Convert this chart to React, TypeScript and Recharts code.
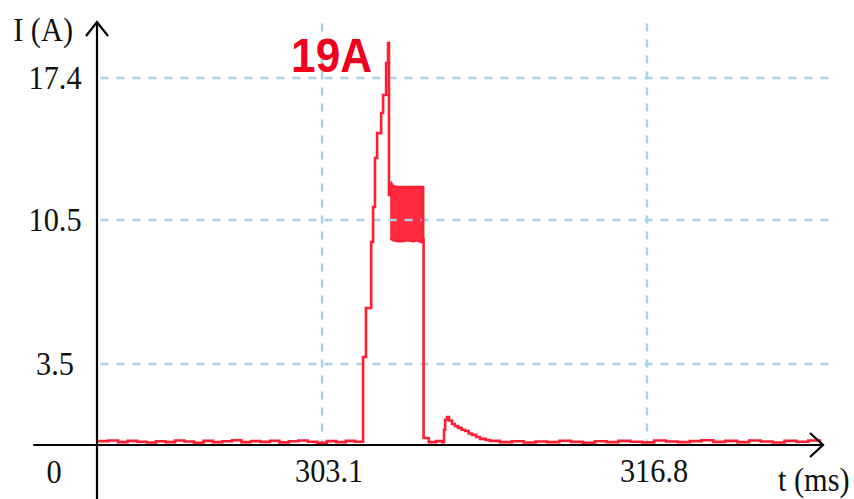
import React from "react";
import { ComposedChart, Line, Area, XAxis, YAxis, ReferenceLine, ReferenceDot } from "recharts";

// time axis (ms) and current (A)
const T_MIN = 293.61;
const T_MAX = 324.22;
const I_MIN = -0.44;
const I_MAX = 20.12;
const xTicks = [303.1, 316.8];
const yTicks = [3.5, 10.5, 17.4];

const preTimes = [293.65, 294.1, 294.5, 294.9, 295.3, 295.7, 296.1, 296.5, 296.9, 297.3, 297.7, 298.1, 298.5, 298.9, 299.3, 299.7, 300.1, 300.5, 300.9, 301.3, 301.7, 302.1, 302.5, 302.9, 303.3, 303.7, 304.1, 304.5];
const preValues = [-0.25, -0.22, -0.3, -0.24, -0.28, -0.32, -0.26, -0.3, -0.22, -0.27, -0.33, -0.24, -0.3, -0.26, -0.21, -0.3, -0.25, -0.29, -0.23, -0.31, -0.26, -0.22, -0.28, -0.33, -0.25, -0.3, -0.24, -0.28];

const pulseTimes = [304.83, 304.95, 305.17, 305.25, 305.33, 305.42, 305.59, 305.67, 305.8, 305.88, 305.92, 305.97, 307.36, 307.38, 307.6, 307.9, 308.16, 308.24, 308.29, 308.37, 308.45, 308.58, 308.7, 308.83, 308.98, 309.13, 309.28, 309.42, 309.6, 309.76, 310.0, 310.18];
const pulseValues = [3.84, 6.22, 9.43, 11.13, 13.51, 14.72, 15.7, 16.57, 18.13, 19.1, 11.71, 12.1, 9.53, -0.1, -0.3, -0.25, -0.3, 0.3, 0.78, 0.92, 0.75, 0.58, 0.48, 0.39, 0.3, 0.24, 0.12, 0.05, -0.05, -0.14, -0.2, -0.24];

const postTimes = [310.6, 311.1, 311.6, 312.1, 312.6, 313.1, 313.6, 314.1, 314.6, 315.1, 315.6, 316.1, 316.6, 317.1, 317.6, 318.1, 318.6, 319.1, 319.6, 320.1, 320.6, 321.1, 321.6, 322.1, 322.6, 323.1, 323.6, 324.1];
const postValues = [-0.3, -0.26, -0.32, -0.27, -0.3, -0.23, -0.29, -0.33, -0.26, -0.3, -0.24, -0.28, -0.31, -0.22, -0.27, -0.3, -0.25, -0.21, -0.29, -0.24, -0.3, -0.22, -0.27, -0.32, -0.24, -0.28, -0.22, -0.26];

const bandTimes = [305.97, 306.02, 306.1, 306.3, 306.5, 306.7, 306.95, 307.1, 307.3, 307.36];
const bandLow = [9.6, 9.55, 9.5, 9.45, 9.45, 9.5, 9.45, 9.5, 9.4, 9.5];
const bandHigh = [12.1, 12.3, 12.15, 12.1, 12.05, 12.1, 12.1, 12.1, 12.1, 12.1];

const allTimes = [...preTimes, ...pulseTimes, ...postTimes];
const allValues = [...preValues, ...pulseValues, ...postValues];
const lineData = allTimes.map((t, i) => ({ t, i: allValues[i] }));
const bandData = bandTimes.map((t, i) => ({ t, band: [bandLow[i], bandHigh[i]] }));

const RED = "#ff1f33";
const GRID = "#a9d4e6";
const SERIF = "'Liberation Serif', 'Times New Roman', serif";

const Txt = ({ x, y, anchor = "middle", size = 33, family = SERIF, weight = 400, fill = "#111", sx = 0.92, children }: any) => (
  <text
    transform={`translate(${x},${y}) scale(${sx},1)`}
    x={0}
    y={0}
    textAnchor={anchor}
    fontFamily={family}
    fontSize={size}
    fontWeight={weight}
    fill={fill}
  >
    {children}
  </text>
);

const XTick = (props: any) => {
  const { x, y, payload } = props;
  return <Txt x={x + 7} y={y + 37}>{payload.value}</Txt>;
};

const YTick = (props: any) => {
  const { x, y, payload } = props;
  return <Txt x={x - 42} y={y + 11}>{payload.value}</Txt>;
};

const textShape = (label: string, dx: number, dy: number, anchor: string, opts: any = {}) => (p: any) => (
  <Txt x={p.cx + dx} y={p.cy + dy} anchor={anchor} {...opts}>
    {label}
  </Txt>
);

export default function App() {
  return (
    <div style={{ position: "absolute", left: 0, top: 0, width: 854, height: 499, background: "#fff" }}>
      <ComposedChart width={854} height={499} margin={{ top: 22, right: 31, bottom: 0, left: 0 }}>
        <XAxis
          type="number"
          dataKey="t"
          domain={[T_MIN, T_MAX]}
          allowDataOverflow
          ticks={xTicks}
          axisLine={false}
          tickLine={false}
          tickSize={0}
          tickMargin={0}
          height={54}
          tick={<XTick />}
        />
        <YAxis
          type="number"
          domain={[I_MIN, I_MAX]}
          allowDataOverflow
          ticks={yTicks}
          axisLine={false}
          tickLine={false}
          tickSize={0}
          tickMargin={0}
          width={97}
          tick={<YTick />}
        />
        {yTicks.map((v) => (
          <ReferenceLine
            key={"h" + v}
            segment={[{ x: T_MIN + 0.15, y: v }, { x: 324.5, y: v }]}
            stroke={GRID}
            strokeWidth={2.5}
            strokeDasharray="8 8"
            ifOverflow="visible"
          />
        ))}
        {xTicks.map((v) => (
          <ReferenceLine
            key={"v" + v}
            segment={[{ x: v, y: 20.05 }, { x: v, y: I_MIN }]}
            stroke={GRID}
            strokeWidth={2.5}
            strokeDasharray="8 8"
            ifOverflow="visible"
          />
        ))}
        <Area
          data={bandData}
          dataKey="band"
          type="linear"
          stroke={RED}
          strokeWidth={2}
          fill={RED}
          fillOpacity={0.95}
          isAnimationActive={false}
        />
        <Line
          data={lineData}
          dataKey="i"
          type="stepAfter"
          stroke={RED}
          strokeWidth={2.6}
          dot={false}
          isAnimationActive={false}
        />
        <ReferenceLine
          segment={[{ x: T_MIN, y: I_MAX }, { x: T_MIN, y: -3.1 }]}
          stroke="#000"
          strokeWidth={2.2}
          ifOverflow="visible"
        />
        <ReferenceLine
          segment={[{ x: 290.92, y: I_MIN }, { x: T_MAX, y: I_MIN }]}
          stroke="#000"
          strokeWidth={2.2}
          ifOverflow="visible"
        />
        <ReferenceDot
          x={T_MIN}
          y={I_MAX}
          r={0}
          ifOverflow="visible"
          shape={(p: any) => (
            <path d={`M${p.cx - 11},${p.cy + 14} L${p.cx},${p.cy} L${p.cx + 11},${p.cy + 14}`} stroke="#000" strokeWidth={2.2} fill="none" />
          )}
        />
        <ReferenceDot
          x={T_MAX}
          y={I_MIN}
          r={0}
          ifOverflow="visible"
          shape={(p: any) => (
            <path d={`M${p.cx - 13},${p.cy - 12} L${p.cx},${p.cy} L${p.cx - 13},${p.cy + 12}`} stroke="#000" strokeWidth={2.2} fill="none" />
          )}
        />
        <ReferenceDot x={T_MIN} y={I_MAX} r={0} ifOverflow="visible" shape={textShape("I (A)", -24, 19, "end")} />
        <ReferenceDot x={T_MAX} y={I_MIN} r={0} ifOverflow="visible" shape={textShape("t (ms)", -45, 46, "start")} />
        <ReferenceDot x={T_MIN} y={I_MIN} r={0} ifOverflow="visible" shape={textShape("0", -43, 38, "middle")} />
        <ReferenceDot
          x={305.88}
          y={19.1}
          r={0}
          ifOverflow="visible"
          shape={textShape("19A", -16, 29, "end", {
            family: "'Liberation Sans', Arial, sans-serif",
            weight: 700,
            size: 49,
            fill: "#f0001c",
            sx: 0.9,
          })}
        />
      </ComposedChart>
    </div>
  );
}
